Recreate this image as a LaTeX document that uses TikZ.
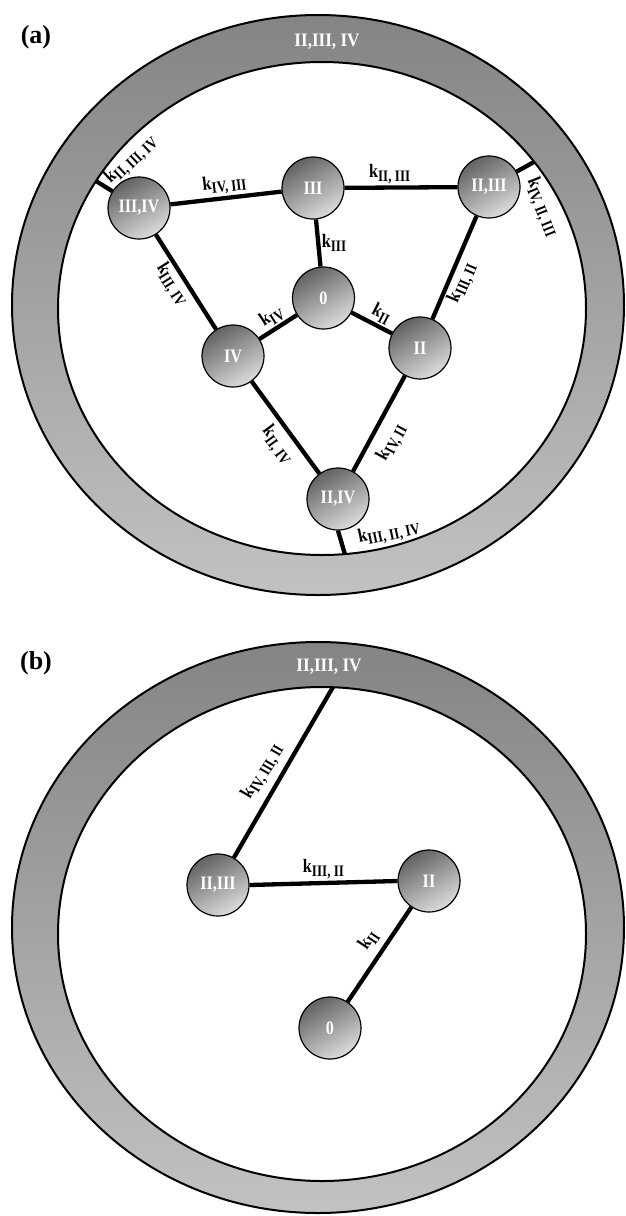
\documentclass[tikz,border=0pt]{standalone}
\usepackage{graphicx}
\usepackage{fontspec}
\setmainfont{Liberation Serif}
\definecolor{ringtop}{RGB}{132,132,132}
\definecolor{ringbot}{RGB}{194,194,194}
\definecolor{ndark}{RGB}{98,98,98}
\definecolor{nlight}{RGB}{220,220,220}
\newcommand{\kk}[1]{\scalebox{0.85}[1]{\fontsize{19}{19}\selectfont\bfseries k}\raisebox{-4pt}{\scalebox{0.82}[1]{\fontsize{16}{16}\selectfont\bfseries #1}}}
\newcommand{\nt}[1]{\scalebox{0.85}[1]{#1}}
\begin{document}
\begin{tikzpicture}[x=1pt,y=-1pt,
  ball/.style={circle, minimum size=62pt, inner sep=0pt, draw=black, line width=1.2pt,
    top color=ndark, bottom color=nlight, shading angle=30, text=white,
    font=\fontsize{19}{19}\selectfont\bfseries},
  link/.style={line width=4.3pt},
  klab/.style={inner sep=1.5pt},
  ring/.style={draw=black, line width=2pt, top color=ringtop, bottom color=ringbot},
  hole/.style={draw=black, line width=2pt, fill=white},
  ringtext/.style={text=white, font=\fontsize{19}{19}\selectfont\bfseries},
  tag/.style={font=\fontsize{26}{26}\selectfont\bfseries}]
\useasboundingbox (0,0) rectangle (625,1216);

% ---------------- panel (a)
\node[tag] (ta) at (36,37) {(a)};
\path[ring] (318,305) ellipse [x radius=306pt, y radius=290pt];
\path[hole] (322,308.5) ellipse [x radius=264pt, y radius=246.5pt];
\node[ringtext] (ra) at (327,42) {\scalebox{0.9}[1]{II,III, IV}};

\node[ball] (a3)  at (313,188)   {\nt{III}};
\node[ball] (a0)  at (323.5,298) {\nt{0}};
\node[ball] (a34) at (139,208)   {\nt{III,IV}};
\node[ball] (a23) at (489,187)   {\nt{II,III}};
\node[ball] (a4)  at (233,356)   {\nt{IV}};
\node[ball] (a2)  at (420,348)   {\nt{II}};
\node[ball] (a24) at (338,499)   {\nt{II,IV}};

\coordinate (ca1) at (96,181);
\coordinate (ca2) at (534,162);
\coordinate (ca3) at (345,554.5);

\draw[link] (a34) -- node[klab, sloped, above] {\kk{IV, III}} (a3);
\draw[link] (a3) -- node[klab, sloped, above, pos=0.4] {\kk{II, III}} (a23);
\draw[link] (a3) -- node[klab, right, pos=0.5] {\kk{III}} (a0);
\draw[link] (a0) -- node[klab, sloped, above] {\kk{IV}} (a4);
\draw[link] (a0) -- node[klab, sloped, above, pos=0.6] {\kk{II}} (a2);
\draw[link] (a34) -- node[klab, sloped, below, pos=0.45] {\kk{III, IV}} (a4);
\draw[link] (a23) -- node[klab, sloped, below, pos=0.6] {\kk{III, II}} (a2);
\draw[link] (a4) -- node[klab, sloped, below=4pt, pos=0.58] {\kk{II, IV}} (a24);
\draw[link] (a2) -- node[klab, sloped, below=7pt, pos=0.6] {\kk{IV, II}} (a24);
\draw[link] (a34) -- (ca1);
\draw[link] (a23) -- (ca2);
\draw[link] (a24.south) -- (ca3);

\node[klab, rotate=43]  (la1) at (131,160) {\kk{II, III, IV}};
\node[klab, rotate=-68] (la2) at (542,207) {\kk{IV, II, III}};
\node[klab, rotate=12]  (la3) at (389,533) {\kk{III, II, IV}};

% ---------------- panel (b)
\node[tag] (tb) at (36,663) {(b)};
\path[ring] (318,927.5) ellipse [x radius=306pt, y radius=285.5pt];
\path[hole] (322,934) ellipse [x radius=264pt, y radius=247pt];
\node[ringtext] (rb) at (329,667) {\scalebox{0.9}[1]{II,III, IV}};

\node[ball] (b23) at (218,885)  {\nt{II,III}};
\node[ball] (b2)  at (429,881)  {\nt{II}};
\node[ball] (b0)  at (330,1028) {\nt{0}};
\coordinate (cb1) at (333,687);

\draw[link] (b23) -- node[klab, sloped, above=5pt, pos=0.45] {\kk{IV, III, II}} (cb1);
\draw[link] (b23.east) -- node[klab, above] {\kk{III, II}} (b2.west);
\draw[link] (b2) -- node[klab, sloped, above=5pt, pos=0.45] {\kk{II}} (b0);
\end{tikzpicture}
\end{document}
